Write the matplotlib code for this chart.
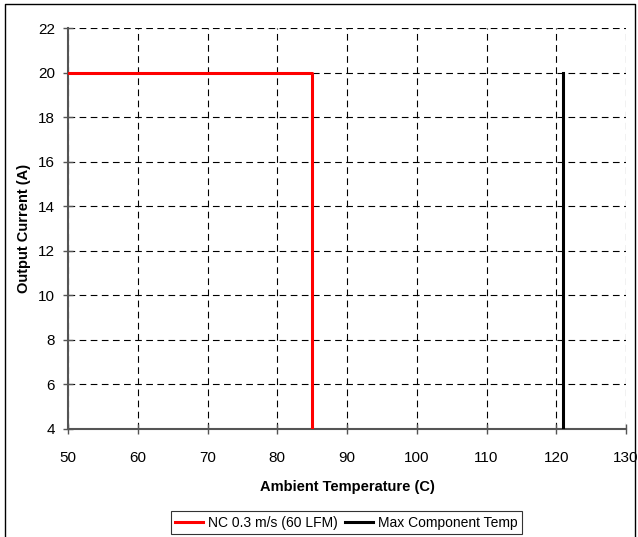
import matplotlib
matplotlib.use('Agg')
import matplotlib.pyplot as plt
from matplotlib.lines import Line2D

plt.rcParams['font.family'] = ['Liberation Sans', 'DejaVu Sans']

# red derating curve: natural convection 0.3 m/s
nc_temp = [50, 85, 85]
nc_current = [20, 20, 4]
# max component temperature limit
max_temp = [121, 121]
max_current = [4, 20]

x_ticks = [50, 60, 70, 80, 90, 100, 110, 120, 130]
y_ticks = [4, 6, 8, 10, 12, 14, 16, 18, 20, 22]

fig = plt.figure(figsize=(6.38, 5.37), dpi=100)
ax = fig.add_axes([68/638, 1 - 429/537, (626-68)/638, (429-28)/537])

ax.plot(nc_temp, nc_current, color='#ff0000', lw=2.2, label='NC 0.3 m/s (60 LFM)', zorder=3)
ax.plot(max_temp, max_current, color='black', lw=2.2, label='Max Component Temp', zorder=3)

ax.set_xlim(50, 130)
ax.set_ylim(4, 22)
ax.set_xticks(x_ticks)
ax.set_yticks(y_ticks)
ax.grid(True, color='black', linestyle=(0, (6, 4)), lw=0.8)
ax.set_axisbelow(True)

for s in ['top', 'right']:
    ax.spines[s].set_visible(False)
for s in ['left', 'bottom']:
    ax.spines[s].set_color('#555555')
    ax.spines[s].set_linewidth(1.5)

ax.tick_params(direction='inout', length=7, width=1, color='#555555', labelsize=11)
ax.tick_params(axis='x', pad=12)
ax.tick_params(axis='y', pad=6)

ax.set_xlabel('Ambient Temperature (C)', fontsize=10.5, fontweight='bold', labelpad=11)
ax.set_ylabel('Output Current (A)', fontsize=10.5, fontweight='bold', labelpad=5)

leg = fig.legend(loc='center', bbox_to_anchor=(346.5/638, 1 - 522.5/537), ncol=2,
                 fontsize=10, frameon=True, fancybox=False, handlelength=2.0,
                 handletextpad=0.4, columnspacing=0.5, borderpad=0.3,
                 borderaxespad=0)
leg.get_frame().set_edgecolor('black')
leg.get_frame().set_linewidth(0.8)

# figure frame
fx0, fx1 = 5/638, 635/638
fy1 = 1 - 4/537
fig.add_artist(Line2D([fx0, fx0, fx1, fx1], [0, fy1, fy1, 0], color='black', lw=1,
                      transform=fig.transFigure))

fig.savefig('out.png', dpi=100)
